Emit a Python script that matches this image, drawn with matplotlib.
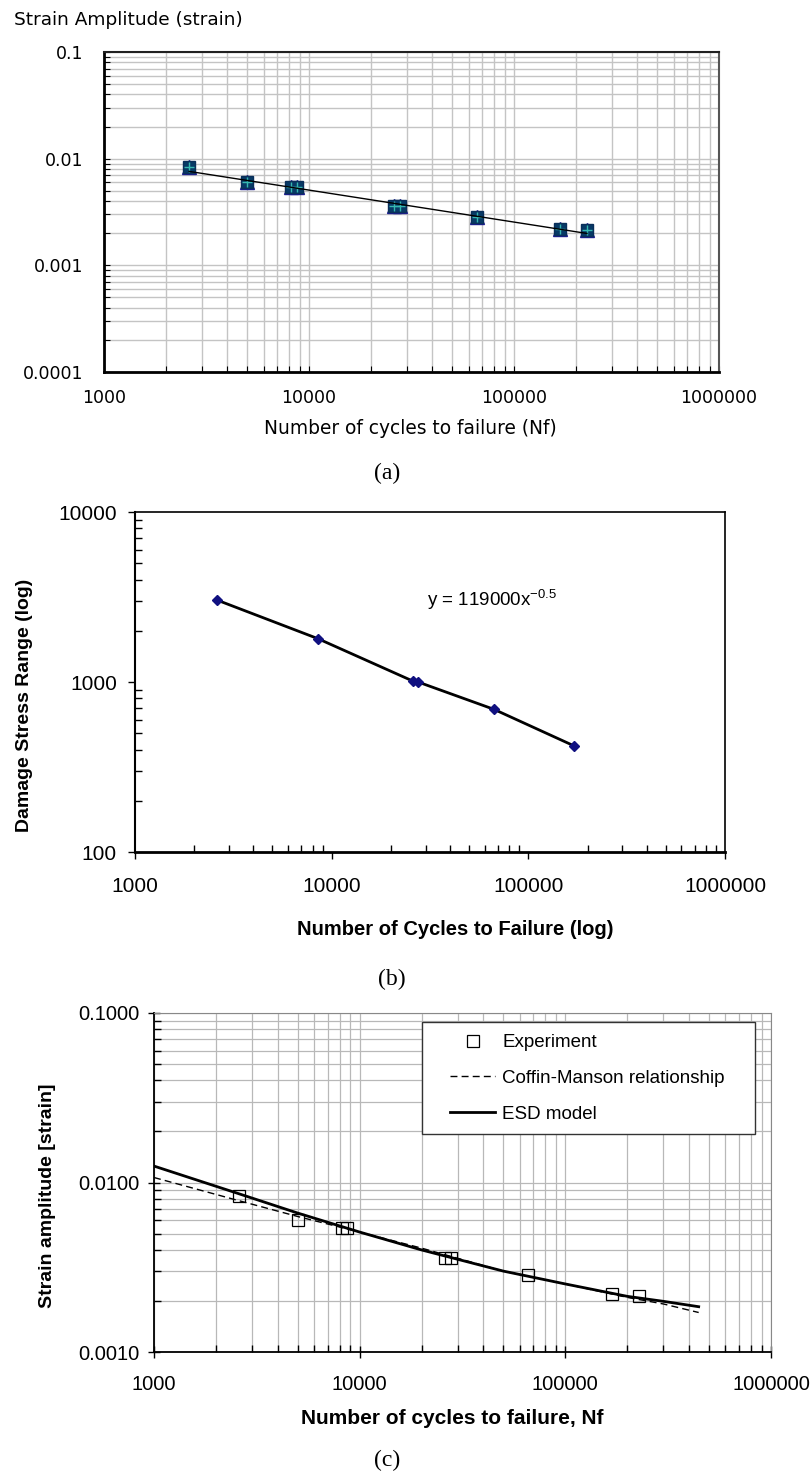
import matplotlib
matplotlib.use("Agg")
import matplotlib.pyplot as plt
from matplotlib.patches import Rectangle
from matplotlib.ticker import (FixedLocator, FixedFormatter, LogLocator,
                               NullFormatter)

W, H = 811, 1472
DPI = 100

# ---- data -------------------------------------------------------------
# fatigue tests: cycles to failure and applied strain amplitude
cycles = [2600, 5000, 8200, 8700, 26000, 27800, 66000, 168000, 227000]
strain_amp = [0.0083, 0.0060, 0.0054, 0.0054, 0.0036, 0.0036,
              0.00284, 0.0022, 0.00215]

# power-law trend line through the strain-life points (end points)
trend_cycles = [2600, 227000]
trend_strain = [0.0076, 0.00199]

# damage stress range versus life
dsr_cycles = [2600, 8500, 26000, 27500, 67000, 170000]
dsr_stress = [3040, 1800, 1010, 1000, 690, 422]
dsr_fit_label = r"y = 119000x$^{-0.5}$"

# model predictions
model_cycles = [1000, 2500, 5000, 10000, 20000, 50000, 100000, 200000,
                300000, 445000]
esd_strain = [0.0125, 0.0087, 0.0066, 0.0051, 0.0040, 0.0030, 0.00252,
              0.00213, 0.00199, 0.00185]
cm_strain = [0.0107, 0.0079, 0.0063, 0.0051, 0.0041, 0.0030, 0.00252,
             0.00210, 0.00192, 0.00171]

x_ticks = [1e3, 1e4, 1e5, 1e6]
x_ticklabels = ["1000", "10000", "100000", "1000000"]
a_yticks = [1e-4, 1e-3, 1e-2, 1e-1]
a_yticklabels = ["0.0001", "0.001", "0.01", "0.1"]
b_yticks = [100, 1000, 10000]
b_yticklabels = ["100", "1000", "10000"]
c_yticks = [1e-3, 1e-2, 1e-1]
c_yticklabels = ["0.0010", "0.0100", "0.1000"]

# ---- helpers ----------------------------------------------------------
def fx(px):
    return px / W


def fy(py):
    return 1 - py / H


def add_axes(left, top, right, bottom):
    return fig.add_axes([fx(left), fy(bottom), (right - left) / W,
                         (bottom - top) / H])


def set_log_ticks(ax, yticks, ylabels):
    ax.set_xscale("log")
    ax.set_yscale("log")
    ax.xaxis.set_major_locator(FixedLocator(x_ticks))
    ax.xaxis.set_major_formatter(FixedFormatter(x_ticklabels))
    ax.yaxis.set_major_locator(FixedLocator(yticks))
    ax.yaxis.set_major_formatter(FixedFormatter(ylabels))
    for axis in (ax.xaxis, ax.yaxis):
        axis.set_minor_locator(LogLocator(base=10, subs=range(2, 10),
                                          numticks=20))
        axis.set_minor_formatter(NullFormatter())


fig = plt.figure(figsize=(W / DPI, H / DPI), dpi=DPI)
fig.patch.set_facecolor("white")

SANS_A = "DejaVu Sans"
SANS = "Liberation Sans"
SERIF = "Liberation Serif"
plt.rcParams["mathtext.fontset"] = "custom"
plt.rcParams["mathtext.rm"] = SANS
plt.rcParams["mathtext.it"] = SANS
plt.rcParams["mathtext.default"] = "regular"

# ---- (a) strain-life data with trend line -----------------------------
axa = add_axes(104, 52, 719, 372)
set_log_ticks(axa, a_yticks, a_yticklabels)
axa.set_xlim(1e3, 1e6)
axa.set_ylim(1e-4, 1e-1)
axa.grid(True, which="both", color="#c4c4c4", lw=1.0)
axa.set_axisbelow(True)
axa.plot(cycles, strain_amp, ls="none", marker="^", ms=10.5,
         color="#1c1c90", zorder=3)
axa.plot(cycles, strain_amp, ls="none", marker="s", ms=9,
         color="#073a66", mec="#0a2f5a", zorder=4)
axa.plot(cycles, strain_amp, ls="none", marker="+", ms=7, mew=1.0,
         color="#36b8b0", zorder=5)
axa.plot(trend_cycles, trend_strain, color="black", lw=1.0, zorder=6)
axa.tick_params(which="both", direction="in", length=4, width=0.8,
                top=False, right=False)
axa.tick_params(which="major", labelsize=12.5, pad=12)
for lab in axa.get_xticklabels() + axa.get_yticklabels():
    lab.set_family(SANS_A)
axa.tick_params(axis="y", which="major", pad=15)
for side in ("left", "bottom"):
    axa.spines[side].set_linewidth(2.0)
    axa.spines[side].set_color("black")
axa.spines["top"].set_linewidth(1.5)
axa.spines["top"].set_color("#202020")
axa.spines["right"].set_linewidth(1.5)
axa.spines["right"].set_color("#555555")

fig.text(fx(14), fy(20), "Strain Amplitude (strain)", ha="left",
         va="center", fontsize=13.3, family=SANS_A)
fig.text(fx(410), fy(428), "Number of cycles to failure (Nf)",
         ha="center", va="center", fontsize=13.4, family=SANS_A)
fig.text(fx(387), fy(473), "(a)", ha="center", va="center", fontsize=17,
         family=SERIF)

# ---- (b) damage stress range ------------------------------------------
axb = add_axes(135, 512, 725, 852)
set_log_ticks(axb, b_yticks, b_yticklabels)
axb.set_xlim(1e3, 1e6)
axb.set_ylim(100, 10000)
axb.plot(dsr_cycles, dsr_stress, color="black", lw=2.0, zorder=3)
axb.plot(dsr_cycles, dsr_stress, ls="none", marker="D", ms=5,
         color="#101080", zorder=4)
axb.tick_params(which="major", direction="out", length=5, width=1.0,
                labelsize=15, pad=8, top=False, right=False)
axb.tick_params(axis="x", which="major", pad=13)
axb.tick_params(which="minor", direction="in", length=5, width=1.0,
                top=False, right=False)
for lab in axb.get_xticklabels() + axb.get_yticklabels():
    lab.set_family(SANS)
axb.spines["left"].set_linewidth(1.5)
axb.spines["bottom"].set_linewidth(2.0)
axb.spines["top"].set_linewidth(1.2)
axb.spines["right"].set_linewidth(1.2)
fig.text(fx(427), fy(600), dsr_fit_label, ha="left", va="center",
         fontsize=13.5, family=SANS)

fig.text(fx(25), fy(705), "Damage Stress Range (log)", rotation=90,
         ha="center", va="center", fontsize=14, fontweight="bold",
         family=SANS)
fig.text(fx(455), fy(930), "Number of Cycles to Failure (log)",
         ha="center", va="center", fontsize=14.5, fontweight="bold",
         family=SANS)
fig.text(fx(392), fy(979), "(b)", ha="center", va="center", fontsize=17,
         family=SERIF)

# ---- (c) model comparison ---------------------------------------------
axc = add_axes(154, 1013, 771, 1352)
set_log_ticks(axc, c_yticks, c_yticklabels)
axc.set_xlim(1e3, 1e6)
axc.set_ylim(1e-3, 1e-1)
axc.grid(True, which="both", color="#b8b8b8", lw=0.9)
axc.set_axisbelow(True)
axc.plot(cycles, strain_amp, ls="none", marker="s", ms=8.5, mfc="none",
         mec="black", mew=0.9, label="Experiment", zorder=5)
axc.plot(model_cycles, cm_strain, color="black", lw=1.0, ls=(0, (5, 3)),
         label="Coffin-Manson relationship", zorder=3)
axc.plot(model_cycles, esd_strain, color="black", lw=2.0,
         label="ESD model", zorder=4)
axc.tick_params(which="major", direction="inout", length=9, width=1.0,
                labelsize=14.5, pad=6, top=False, right=False)
axc.tick_params(axis="x", which="major", pad=12)
axc.tick_params(which="minor", direction="in", length=5, width=1.0,
                top=False, right=False)
for lab in axc.get_xticklabels() + axc.get_yticklabels():
    lab.set_family(SANS)
axc.spines["left"].set_linewidth(1.3)
axc.spines["bottom"].set_linewidth(1.3)
axc.spines["top"].set_color("#888888")
axc.spines["right"].set_color("#888888")

# legend box drawn as its own white frame behind the entries
leg_box = Rectangle((fx(422), fy(1134)), fx(755) - fx(422),
                    fy(1022) - fy(1134), transform=fig.transFigure,
                    facecolor="white", edgecolor="#333333", lw=1.0,
                    zorder=6, clip_on=False)
axc.add_patch(leg_box)
leg = axc.legend(loc="upper left", bbox_to_anchor=(fx(450), fy(1034)),
                 bbox_transform=fig.transFigure, frameon=False,
                 prop={"family": SANS, "size": 13.5}, borderpad=0.0,
                 labelspacing=1.0, handlelength=2.4, handletextpad=0.4,
                 borderaxespad=0.0)
leg.set_zorder(7)

fig.text(fx(48), fy(1196), "Strain amplitude [strain]", rotation=90,
         ha="center", va="center", fontsize=14, fontweight="bold",
         family=SANS)
fig.text(fx(452), fy(1418), "Number of cycles to failure, Nf",
         ha="center", va="center", fontsize=15, fontweight="bold",
         family=SANS)
fig.text(fx(387), fy(1460), "(c)", ha="center", va="center", fontsize=17,
         family=SERIF)

fig.savefig("out.png", dpi=DPI, facecolor="white")
